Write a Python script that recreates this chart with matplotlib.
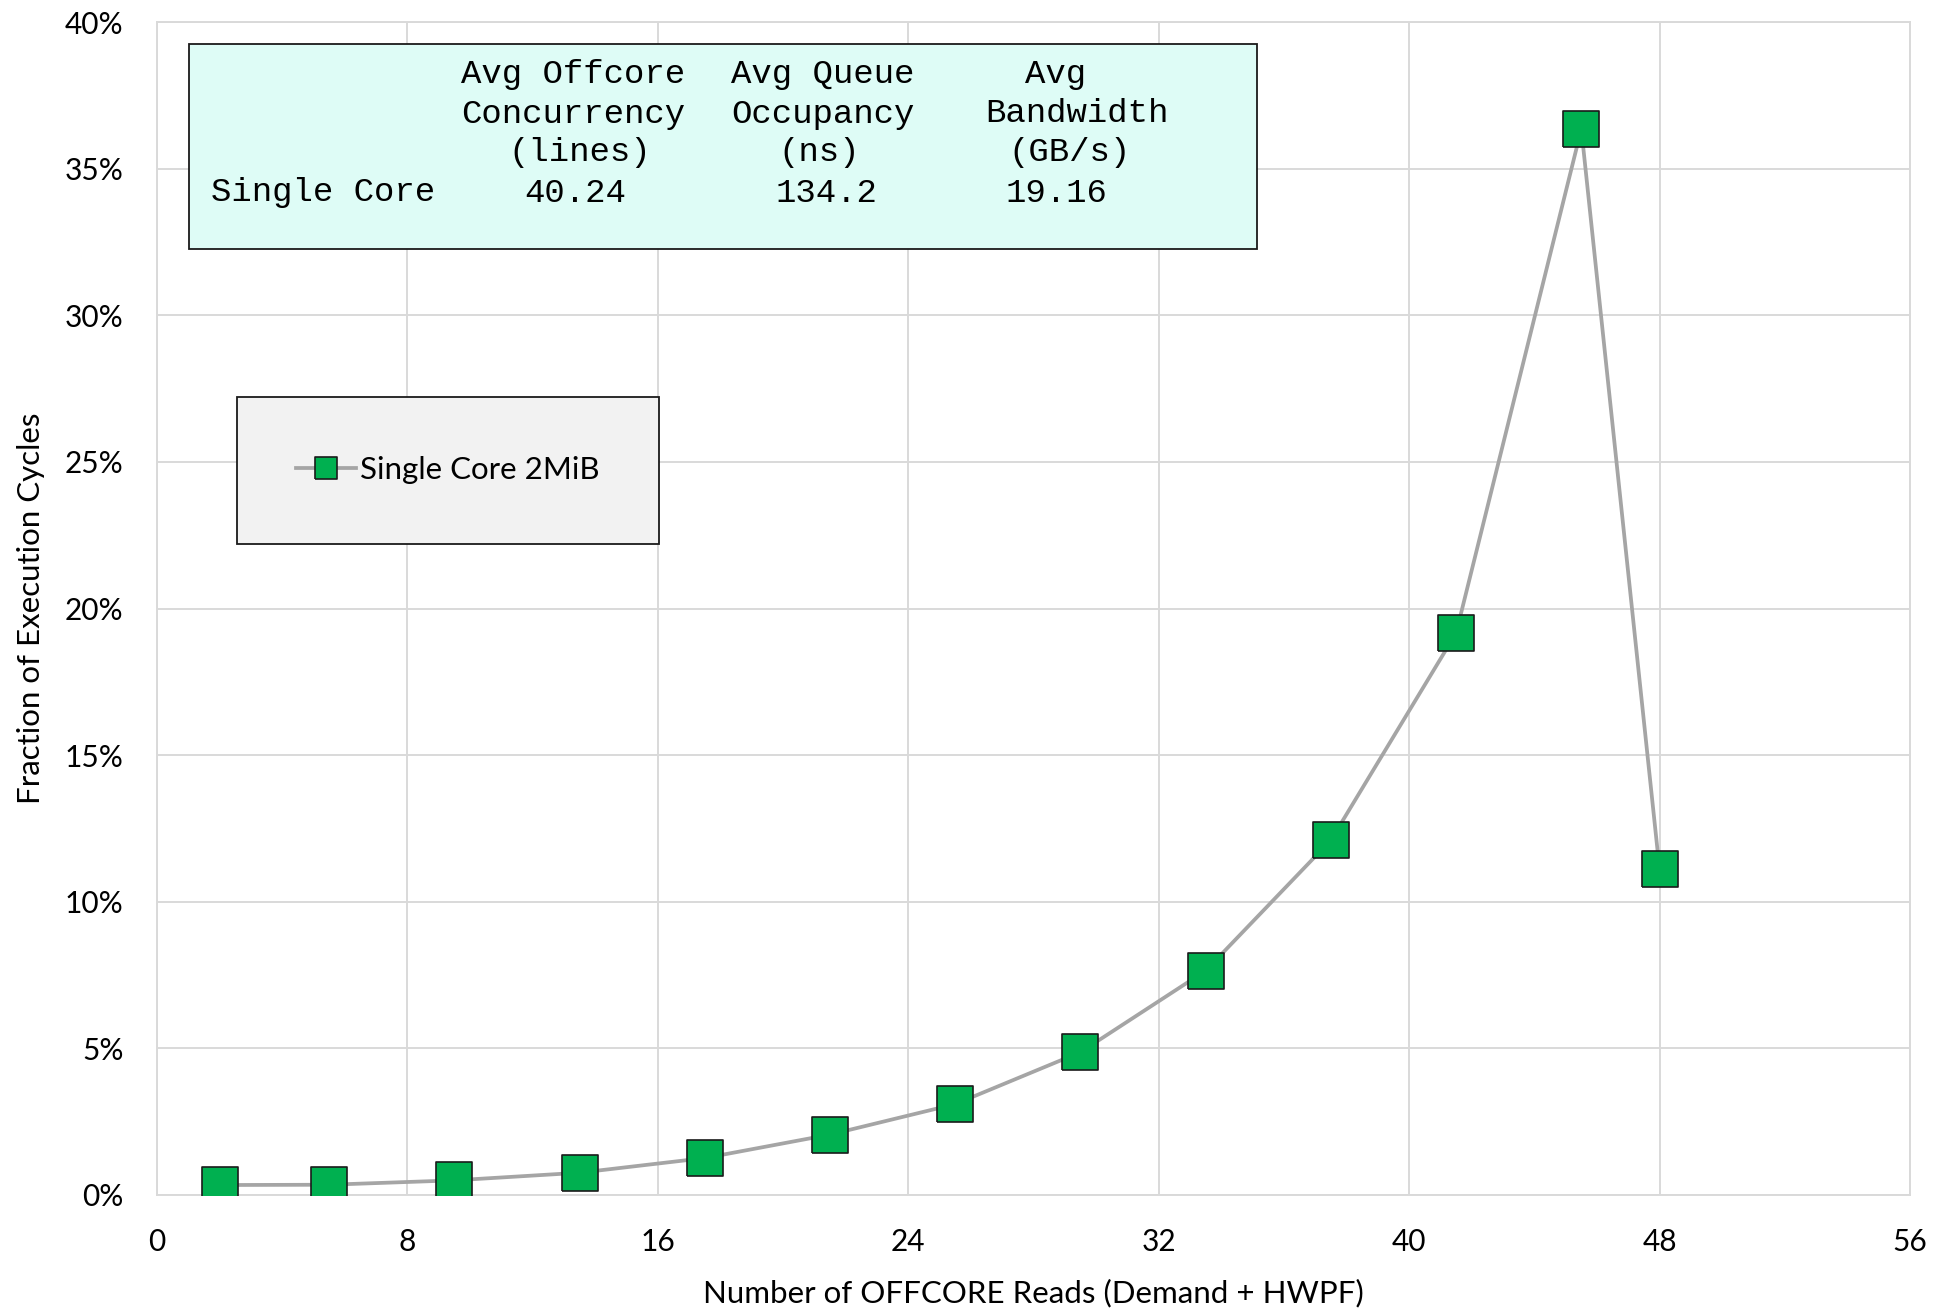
import numpy as np
import matplotlib.pyplot as plt

# Measured points (number of offcore reads vs fraction of cycles)
reads = [2.0, 5.5, 9.5, 13.5, 17.5, 21.5, 25.5, 29.5, 33.5, 37.5, 41.5, 45.5, 48.0]
frac = [0.0034, 0.0035, 0.0050, 0.0076, 0.0126, 0.0206, 0.0310, 0.0487, 0.0765,
        0.1210, 0.1916, 0.3635, 0.1110]
series_name = 'Single Core 2MiB'

# Summary table shown in the box
tbl_header = [['Avg Offcore', 'Concurrency', '(lines)'],
              ['Avg Queue', 'Occupancy', '(ns)'],
              ['Avg', 'Bandwidth', '(GB/s)']]
tbl_row = 'Single Core'
tbl_vals = ['40.24', '134.2', '19.16']

xticks = np.arange(0, 57, 8)
yticks = np.arange(0, 0.41, 0.05)

W, H = 1934, 1312
fig = plt.figure(figsize=(W/100, H/100), dpi=100)
ax = fig.add_axes([157/W, 1-1195/H, (1910-157)/W, (1195-22)/H])

grid_c = '#D9D9D9'
sq = [(-1, -1), (1, -1), (1, 1), (-1, 1), (-1, -1)]
ax.plot(reads, frac, color='#A5A5A5', linewidth=2.7, marker=sq, markersize=26,
        markerfacecolor='#00B050', markeredgecolor='#1A1A1A', markeredgewidth=1.2,
        label=series_name, zorder=3)

ax.set_xlim(0, 56)
ax.set_ylim(0, 0.40)
ax.set_xticks(xticks)
ax.set_yticks(yticks)
ax.set_yticklabels(['%d%%' % round(v*100) for v in yticks])
ax.grid(True, color=grid_c, linewidth=1.4)
ax.set_axisbelow(True)
for s in ax.spines.values():
    s.set_color(grid_c)
    s.set_linewidth(1.4)
ax.tick_params(length=0, pad=24, labelsize=21.5)
for t in ax.get_xticklabels() + ax.get_yticklabels():
    t.set_fontfamily('Lato')

ax.set_xlabel('Number of OFFCORE Reads (Demand + HWPF)', fontsize=22.5, family='Lato', labelpad=16)
ax.set_ylabel('Fraction of Execution Cycles', fontsize=22.5, family='Lato', labelpad=14)

# Table box (pixel layout of the text box)
fx = lambda px: px/W
fy = lambda py: 1-py/H
box = plt.Rectangle((fx(189), fy(249)), fx(1257)-fx(189), (249-44)/H, transform=fig.transFigure,
                    facecolor='#DEFCF6', edgecolor='#1A1A1A', linewidth=1.3, zorder=5)
fig.patches.append(box)
row_y = [75, 114, 153, 193]
hdr_left = [[461, 461, 508], [731, 731, 778], [1025, 985, 1008]]
val_left = [524, 775, 1006]
mono = dict(family='Liberation Mono', fontsize=24.5, ha='left', va='center', zorder=6)
for ci, lines in enumerate(tbl_header):
    for ri, txt in enumerate(lines):
        fig.text(fx(hdr_left[ci][ri]), fy(row_y[ri]), txt, **mono)
    fig.text(fx(val_left[ci]), fy(row_y[3]), tbl_vals[ci], **mono)
fig.text(fx(211), fy(row_y[3]), tbl_row, **mono)

leg = ax.legend(loc='upper left', bbox_to_anchor=(fx(237), fy(397)), bbox_transform=fig.transFigure,
                prop={'family': 'Lato', 'size': 22.5}, markerscale=0.6, handlelength=1.9,
                handletextpad=0.15, borderpad=1.9, borderaxespad=0, fancybox=False, framealpha=1,
                facecolor='#F2F2F2', edgecolor='#1A1A1A')
leg.get_frame().set_linewidth(1.3)

plt.savefig('out.png', dpi=100)
